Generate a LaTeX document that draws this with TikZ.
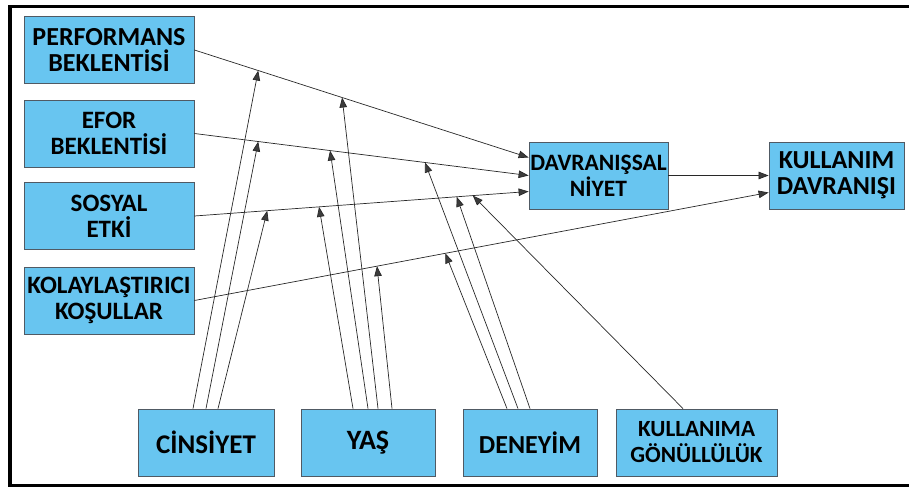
\documentclass[tikz,border=0pt]{standalone}
\usepackage{fontspec}
\setmainfont{Carlito}
\usetikzlibrary{arrows.meta}
\definecolor{boxfill}{RGB}{104,197,240}
\definecolor{boxline}{RGB}{80,90,100}
\definecolor{linkcol}{RGB}{40,40,40}
\definecolor{headcol}{RGB}{60,60,60}
\tikzset{
  box/.style={draw=boxline, line width=0.8pt, fill=boxfill, rectangle,
    align=center, inner sep=0pt, minimum height=67pt,
    font=\fontsize{25}{26}\selectfont\bfseries},
  fs/.style={font=\fontsize{#1}{26}\selectfont\bfseries},
  link/.style={draw=linkcol, line width=0.7pt,
    -{Triangle[length=10pt,width=7.5pt,fill=headcol]}},
  frame/.style={draw=black, line width=3.5pt}
}
\begin{document}
\begin{tikzpicture}[x=1pt,y=-1pt]
\useasboundingbox (0,0) rectangle (909,487);
\draw[frame] (10,6.5) rectangle (915,485.5);

% constructs on the left
\node[box, fs=26, minimum width=170pt] (perf)   at (109,50)    {PERFORMANS\\BEKLENTİSİ};
\node[box, minimum width=170pt] (efor)   at (109,133.5) {EFOR\\BEKLENTİSİ};
\node[box, minimum width=170pt] (sosyal) at (109,216)   {SOSYAL\\ETKİ};
\node[box, minimum width=170pt] (kolay)  at (109,300.5) {KOLAYLAŞTIRICI\\KOŞULLAR};

% intention and behaviour
\node[box, fs=23.5, minimum width=139pt] (niyet) at (598.5,175.5) {DAVRANIŞSAL\\NİYET};
\node[box, fs=26, minimum width=135pt] (kdav)  at (836.5,175.5) {KULLANIM\\DAVRANIŞI};

% moderators
\node[box, fs=27, minimum width=136pt] (cins)  at (206,442.5)   {CİNSİYET};
\node[box, fs=28, minimum width=134pt] (yas)   at (368,442.5)   {YAŞ};
\node[box, fs=26, minimum width=134pt] (deney) at (530,442.5)   {DENEYİM};
\node[box, fs=23.2, minimum width=161pt] (gonul) at (696.5,442.5) {KULLANIMA\\GÖNÜLLÜLÜK};

% main paths
\draw[link] (perf.east) -- coordinate[pos=0.191] (p1) coordinate[pos=0.442] (p2)
  ([yshift=18pt]niyet.west);
\draw[link] (efor.east) -- coordinate[pos=0.191] (e1) coordinate[pos=0.406] (e2)
  coordinate[pos=0.690] (e3) (niyet.west);
\draw[link] (sosyal.east) -- coordinate[pos=0.218] (s1) coordinate[pos=0.373] (s2)
  coordinate[pos=0.785] (s3) coordinate[pos=0.833] (s4) ([yshift=-16pt]niyet.west);
\draw[link] (kolay.east) -- coordinate[pos=0.318] (k1) coordinate[pos=0.437] (k2)
  ([yshift=-17pt]kdav.west);
\draw[link] (niyet.east) -- (kdav.west);

% moderating effects
\draw[link] ([xshift=-13pt]cins.north) -- (p1);
\draw[link] (cins.north) -- (e1);
\draw[link] ([xshift=12pt]cins.north) -- (s1);
\draw[link] ([xshift=-15pt]yas.north) -- (s2);
\draw[link] (yas.north) -- (e2);
\draw[link] ([xshift=10pt]yas.north) -- (p2);
\draw[link] ([xshift=24pt]yas.north) -- (k1);
\draw[link] ([xshift=-23pt]deney.north) -- (k2);
\draw[link] ([xshift=-12pt]deney.north) -- (e3);
\draw[link] (deney.north) -- (s3);
\draw[link] ([xshift=-13.5pt]gonul.north) -- (s4);
\end{tikzpicture}
\end{document}
